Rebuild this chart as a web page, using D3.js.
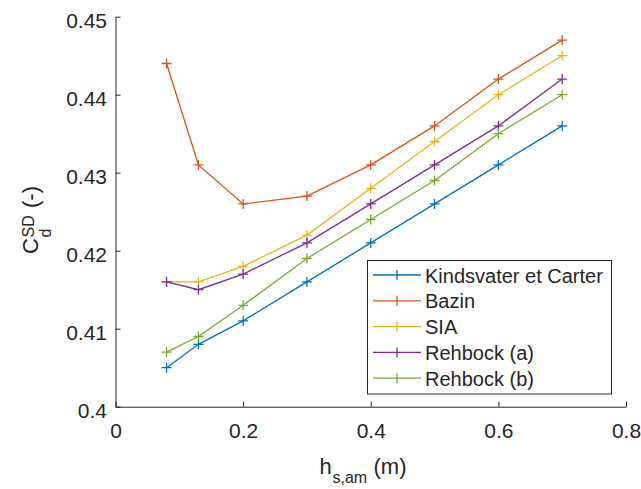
<!DOCTYPE html>
<html><head><meta charset="utf-8">
<script src="https://cdn.jsdelivr.net/npm/d3@7"></script>
<style>body{margin:0;background:#fff}svg{display:block;font-family:"Liberation Sans",Arial,sans-serif}</style>
</head><body><svg id="c" width="641" height="489"></svg>
<script>
const xValues = [0.08, 0.13, 0.2, 0.3, 0.4, 0.5, 0.6, 0.7];
const seriesNames = ["Kindsvater et Carter", "Bazin", "SIA", "Rehbock (a)", "Rehbock (b)"];
const kindsvater = [0.405, 0.408, 0.411, 0.416, 0.421, 0.426, 0.431, 0.436];
const bazin = [0.444, 0.431, 0.426, 0.427, 0.431, 0.436, 0.442, 0.447];
const sia = [0.416, 0.416, 0.418, 0.422, 0.428, 0.434, 0.440, 0.445];
const rehbockA = [0.416, 0.415, 0.417, 0.421, 0.426, 0.431, 0.436, 0.442];
const rehbockB = [0.407, 0.409, 0.413, 0.419, 0.424, 0.429, 0.435, 0.440];
const xTicks = [0, 0.2, 0.4, 0.6, 0.8];
const yTicks = [0.40, 0.41, 0.42, 0.43, 0.44, 0.45];
const colors = ["#0072BD", "#D95319", "#EDB120", "#7E2F8E", "#77AC30"];

const series = [kindsvater, bazin, sia, rehbockA, rehbockB];
const svg = d3.select("#c");
const L = 115.5, R = 626, T = 16.7, B = 406.7;
const x = d3.scaleLinear().domain([0, 0.8]).range([L, R]);
const y = d3.scaleLinear().domain([0.40, 0.45]).range([B, T]);
const ink = "#262626";
const tickFont = 21;

// axes
const xa = svg.append("g").attr("transform", `translate(0,${B})`)
  .call(d3.axisBottom(x).tickValues(xTicks).tickFormat(d => d === 0 ? "0" : d3.format(".1f")(d)).tickSizeInner(-5).tickSizeOuter(0).tickPadding(16.6));
const ya = svg.append("g").attr("transform", `translate(${L},0)`)
  .call(d3.axisLeft(y).tickValues(yTicks).tickFormat(d => d3.format("")(+d.toFixed(2))).tickSizeInner(-5).tickSizeOuter(0).tickPadding(8.5));
[xa, ya].forEach(a => {
  a.attr("font-family", null).attr("font-size", tickFont);
  a.select(".domain").attr("stroke", ink).attr("stroke-width", 1);
  a.selectAll(".tick line").attr("stroke", ink);
  a.selectAll(".tick text").attr("fill", ink).attr("font-size", tickFont);
});
ya.selectAll(".tick text").attr("dy", "0.5em");

// lines
const line = d3.line().x((d, i) => x(xValues[i])).y(d => y(d));
series.forEach((s, k) => {
  svg.append("path").datum(s).attr("d", line).attr("fill", "none")
    .attr("stroke", colors[k]).attr("stroke-width", 1.3);
  svg.append("g").selectAll("path").data(s).join("path")
    .attr("d", (d, i) => { const cx = x(xValues[i]), cy = y(d); return `M${cx-5},${cy}H${cx+5}M${cx},${cy-5}V${cy+5}`; })
    .attr("stroke", colors[k]).attr("stroke-width", 1.3).attr("fill", "none");
});

// legend
const lg = svg.append("g");
lg.append("rect").attr("x", 367.5).attr("y", 260.5).attr("width", 244).attr("height", 133.5)
  .attr("fill", "#fff").attr("stroke", ink).attr("stroke-width", 1);
seriesNames.forEach((n, k) => {
  const yy = 275 + k * 25.8;
  lg.append("line").attr("x1", 373).attr("x2", 421).attr("y1", yy).attr("y2", yy).attr("stroke", colors[k]).attr("stroke-width", 1.3);
  lg.append("path").attr("d", `M397,${yy-5}V${yy+5}`).attr("stroke", colors[k]).attr("stroke-width", 1.3);
  lg.append("text").attr("x", 425).attr("y", yy + 7.5).attr("font-size", 20).attr("fill", ink).text(n);
});

// x axis label
const xl = svg.append("g").attr("fill", ink);
xl.append("text").attr("x", 319.5).attr("y", 474.3).attr("font-size", 22).text("h");
xl.append("text").attr("x", 332.5).attr("y", 483).attr("font-size", 16).text("s,am");
xl.append("text").attr("x", 373.5).attr("y", 474.3).attr("font-size", 22).text("(m)");

// y axis label (rotated, x = -screenY)
const yl = svg.append("g").attr("transform", "translate(37.5,0) rotate(-90)").attr("fill", ink);
yl.append("text").attr("x", -254).attr("y", 0).attr("font-size", 22).text("C");
yl.append("text").attr("x", -237.5).attr("y", -4).attr("font-size", 16).text("SD");
yl.append("text").attr("x", -237.5).attr("y", 13).attr("font-size", 16).text("d");
yl.append("text").attr("x", -208).attr("y", 0).attr("font-size", 22).text("(-)");
</script></body></html>
